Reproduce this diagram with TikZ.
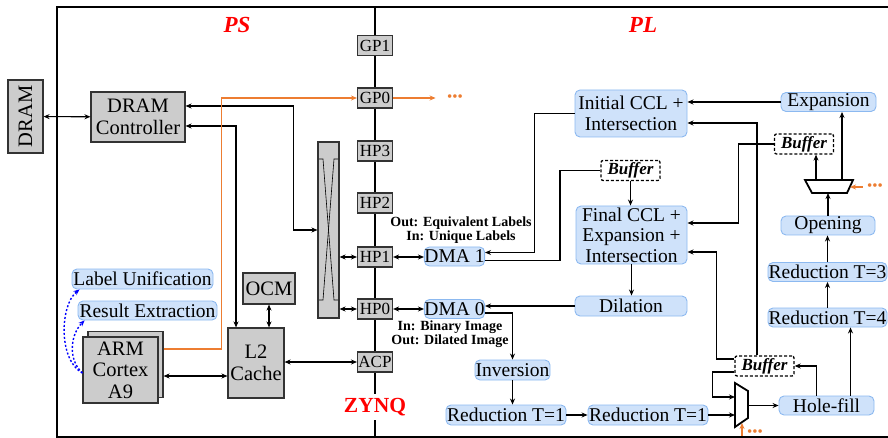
\documentclass[tikz,border=0pt]{standalone}
\usepackage{fontspec}
\setmainfont{Liberation Serif}
\usetikzlibrary{arrows.meta}
\definecolor{blaufill}{RGB}{207,226,250}
\definecolor{blaurand}{RGB}{140,185,240}
\definecolor{orng}{RGB}{237,125,49}

\begin{document}
\begin{tikzpicture}[x=1pt,y=-1pt,line width=1.1pt,
    >={Stealth[length=6pt,width=5pt]},
    grau/.style={draw=black!80,fill=black!20,inner sep=0pt,align=center,
        font=\fontsize{20.5}{21.5}\selectfont},
    port/.style={grau,minimum width=35pt,minimum height=20pt,
        font=\fontsize{17}{17}\selectfont},
    blau/.style={draw=blaurand,fill=blaufill,line width=0.9pt,rounded corners=5pt,
        inner sep=0pt,align=center,font=\fontsize{19.5}{20.5}\selectfont},
    puffer/.style={draw,line width=1.3pt,dash pattern=on 3pt off 2pt,rounded corners=2pt,
        inner sep=0pt,minimum width=59pt,minimum height=20pt,
        font=\fontsize{17}{17}\selectfont\bfseries\itshape},
    hinweis/.style={inner sep=0pt,align=center,font=\fontsize{14}{14}\selectfont\bfseries},
    pf/.style={->},
    dpf/.style={<->},
    opf/.style={->,draw=orng},
    punkte/.style={inner sep=0pt,text=orng,font=\fontsize{15}{15}\selectfont},
    blaupf/.style={->,draw=blue,line width=1.4pt,dash pattern=on 2pt off 2pt}]
    \useasboundingbox (0,0) rectangle (888,438);
    % Rahmen und Bus:
    \draw[line width=1.3pt] (888,7) -- (57,7) -- (57,437) -- (888,437);
    \coordinate (bustop) at (375,7);
    \coordinate (busbot) at (375,437);
    \draw[line width=1.3pt] (bustop) -- (busbot);
    \node[text=red,font=\fontsize{23}{23}\selectfont\bfseries\itshape] (ps) at (237,25) {PS};
    \node[text=red,font=\fontsize{23}{23}\selectfont\bfseries\itshape] (pl) at (643,25) {PL};
    \node[text=red,fill=white,inner sep=4pt,font=\fontsize{21.5}{21.5}\selectfont\bfseries] (zynq) at (375,407) {ZYNQ};
    % Ports:
    \node[port] (gp1) at (375,45.7) {GP1};
    \node[port] (gp0) at (375,98) {GP0};
    \node[port] (hp3) at (375,151) {HP3};
    \node[port] (hp2) at (375,203) {HP2};
    \node[port] (hp1) at (375,257) {HP1};
    \node[port] (hp0) at (375,309) {HP0};
    \node[port] (acp) at (375,362) {ACP};
    % PS-Seite:
    \node[grau,rotate=90,minimum width=73pt,minimum height=35pt] (dram) at (25.5,116.5) {DRAM};
    \node[grau,minimum width=94pt,minimum height=50pt] (ctrl) at (138,117) {DRAM\\Controller};
    \node[grau,minimum width=21pt,minimum height=176pt] (xbar) at (328.5,230) {};
    \draw[line width=0.6pt] (319,159) -- (323,159) -- (334,300) -- (338,300);
    \draw[line width=0.6pt] (338,159) -- (334,159) -- (323,300) -- (319,300);
    \node[grau,minimum width=52pt,minimum height=31pt] (ocm) at (269,288.5) {OCM};
    \node[grau,minimum width=56pt,minimum height=70pt] (l2) at (256,363) {L2\\Cache};
    \node[grau,minimum width=75pt,minimum height=66pt] (armbg) at (125.5,364.5) {};
    \node[grau,minimum width=75pt,minimum height=66pt] (arm) at (120.5,370) {ARM\\Cortex\\A9};
    \node[blau,minimum width=141pt,minimum height=20pt] (labu) at (142.5,279) {Label Unification};
    \node[blau,minimum width=139pt,minimum height=19pt] (resx) at (147.5,310.5) {Result Extraction};
    \node[punkte] (gpdots) at (455,98) {\textbullet\textbullet\textbullet};
    % PL-Seite:
    \node[blau,minimum width=55pt,minimum height=19pt] (dma1) at (454.5,256.5) {DMA 1};
    \node[blau,minimum width=55pt,minimum height=19pt] (dma0) at (454.5,309) {DMA 0};
    \node[hinweis] (lbl1) at (461,230) {Out: Equivalent Labels\\In: Unique Labels};
    \node[hinweis] (lbl0) at (450,334) {In: Binary Image\\Out: Dilated Image};
    \node[blau,minimum width=112pt,minimum height=47pt] (init) at (631,113.5) {Initial CCL +\\Intersection};
    \node[blau,minimum width=95pt,minimum height=19pt] (exp) at (828.5,102) {Expansion};
    \node[puffer] (buf3) at (804,144) {Buffer};
    \node[puffer] (buf1) at (630.5,170.5) {Buffer};
    \node[blau,minimum width=111pt,minimum height=58pt] (fin) at (631.5,235) {Final CCL +\\Expansion +\\Intersection};
    \node[blau,minimum width=112pt,minimum height=20pt] (dil) at (631,306) {Dilation};
    \node[blau,minimum width=94pt,minimum height=19pt] (open) at (828,225.5) {Opening};
    \node[blau,minimum width=119pt,minimum height=19pt] (red3) at (827.5,272) {Reduction T=3};
    \node[blau,minimum width=119pt,minimum height=19pt] (red4) at (827.5,317.5) {Reduction T=4};
    \node[blau,minimum width=95pt,minimum height=19pt] (hole) at (826.5,405.5) {Hole-fill};
    \node[puffer] (buf2) at (764.5,366) {Buffer};
    \node[blau,minimum width=75pt,minimum height=20pt] (inv) at (512.5,370) {Inversion};
    \node[blau,minimum width=120pt,minimum height=20pt] (red1) at (506,415) {Reduction T=1};
    \node[blau,minimum width=120pt,minimum height=20pt] (red2) at (648,415) {Reduction T=1};
    % Multiplexer:
    \draw[line width=1.8pt,fill=white] (735,383) -- (748,391) -- (748,418) -- (735,427) -- cycle;
    \coordinate (mxin1) at (735,397);
    \coordinate (mxin2) at (735,415);
    \coordinate (mxout) at (748,405.5);
    \coordinate (mxsel) at (742,423);
    \draw[line width=1.8pt,fill=white] (805,180) -- (853,180) -- (847,193) -- (812,193) -- cycle;
    \coordinate (mx2a) at (816,180);
    \coordinate (mx2b) at (842,180);
    \coordinate (mx2in) at (828,193);
    \coordinate (mx2sel) at (850,187);
    \node[punkte] (odots1) at (755,433) {\textbullet\textbullet\textbullet};
    \node[punkte] (odots2) at (875,187) {\textbullet\textbullet\textbullet};
    % Verbindungen PS:
    \draw[dpf] (dram) -- (ctrl);
    \draw[dpf] ([yshift=11pt]ctrl.east) -| ([xshift=-24pt]xbar.west) -- (xbar.west);
    \draw[dpf] ([yshift=-9pt]ctrl.east) -| ([xshift=-20pt]l2.north);
    \draw[opf] ([yshift=15.5pt]armbg.east) -| ([xshift=-135.5pt]gp0.west) -- (gp0.west);
    \draw[opf,shorten >=11pt] (gp0.east) -- (gpdots.west);
    \draw[dpf] (xbar.east |- hp1) -- (hp1.west);
    \draw[dpf] (xbar.east |- hp0) -- (hp0.west);
    \draw[dpf] (hp1.east) -- (hp1.east -| dma1.west);
    \draw[dpf] (hp0.east) -- (hp0.east -| dma0.west);
    \draw[dpf] (l2.east |- acp) -- (acp.west);
    \draw[dpf] (ocm.south) -- (ocm.south |- l2.north);
    \coordinate (armio) at ([yshift=-11.5pt]armbg.east);
    \draw[dpf] (armio) -- (armio -| l2.west);
    \draw[blaupf] ([yshift=-3pt]arm.west) .. controls (58,360) and (60,305) .. ([xshift=8pt]labu.south west);
    \draw[blaupf] ([yshift=-3pt]arm.west) .. controls (68,360) and (70,335) .. ([xshift=7pt]resx.south west);
    % Verbindungen PL:
    \draw[pf] (exp.west) -- (exp.west -| init.east);
    \draw[pf] (init.west) -- ++(-40,0) |- ([yshift=4pt]dma1.east);
    \draw ([yshift=-4pt]dma1.east) -- ++(75,0) |- (buf1.west);
    \draw[pf] (buf1.south) -- (buf1.south |- fin.north);
    \draw[pf] (fin.south) -- (fin.south |- dil.north);
    \draw[pf] (dil.west) -- (dil.west -| dma0.east);
    \draw[pf] ([yshift=-4pt]dma0.east) -| (inv.north);
    \draw[pf] (inv.south) -- (inv.south |- red1.north);
    \draw[pf] (red1) -- (red2);
    \draw[pf] (red2.east) -- (mxin2);
    \draw[pf] (mxout) -- (mxout -| hole.west);
    \draw[pf] ([xshift=-10pt]hole.north) |- (buf2.east);
    \coordinate (hf2) at ([xshift=24pt]hole.north);
    \draw[pf] (hf2) -- (hf2 |- red4.south);
    \draw[pf] (red4.north) -- (red4.north |- red3.south);
    \draw[pf] (red3.north) -- (red3.north |- open.south);
    \draw[pf] (open.north) -- (mx2in);
    \draw[pf] (mx2a) -- (mx2a |- buf3.south);
    \draw[pf] (mx2b) -- (mx2b |- exp.south);
    \draw[pf] (buf3.west) -- ++(-35,0) |- ([yshift=12pt]fin.east);
    \draw[pf] ([xshift=-7.5pt]buf2.north) |- ([yshift=-9.5pt]init.east);
    \draw[pf] ([yshift=7pt]buf2.west) -- ++(-18,0) |- ([yshift=-17pt]fin.east);
    \draw[pf] ([yshift=-6pt]buf2.west) -- ++(-22,0) |- (mxin1);
    \draw[opf] (mxsel) ++(0,13) -- (mxsel); % Steuereingang unten
    \draw[opf,shorten <=4pt] (odots2.west) -- (mx2sel);
\end{tikzpicture}
\end{document}
